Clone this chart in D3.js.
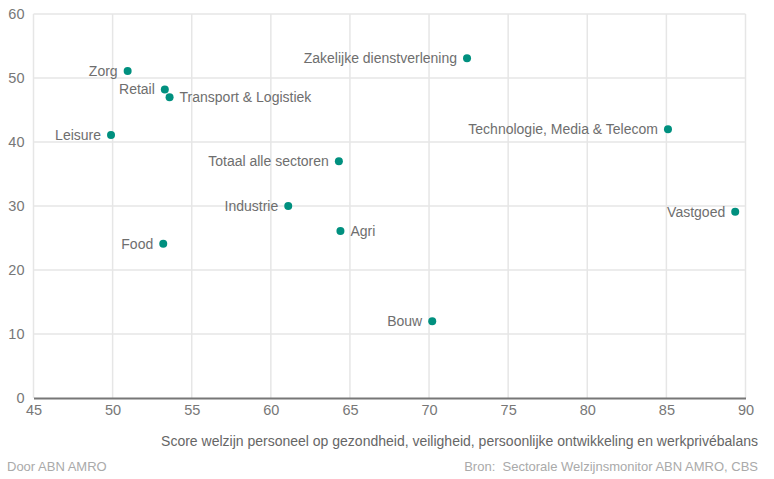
<!DOCTYPE html>
<html>
<head>
<meta charset="utf-8">
<script src="https://cdn.jsdelivr.net/npm/d3@7"></script>
<style>
body { margin:0; background:#fff; }
text { font-family: "Liberation Sans", Arial, sans-serif; }
</style>
</head>
<body>
<svg id="graph"></svg>
<script>
// sectors and scores
var sectors = ["Zorg","Retail","Transport & Logistiek","Leisure","Zakelijke dienstverlening",
               "Totaal alle sectoren","Technologie, Media & Telecom","Vastgoed","Industrie","Agri","Food","Bouw"]
var welzijn = [50.95, 53.3, 53.6, 49.9, 72.4, 64.3, 85.1, 89.35, 61.1, 64.4, 53.2, 70.2]
var yvalues = [51.1, 48.2, 47.0, 41.1, 53.1, 37.0, 42.0, 29.1, 30.0, 26.1, 24.1, 12.0]
var labelSide = ["l","l","r","l","l","l","l","l","l","r","l","l"]
var xTicks = [45,50,55,60,65,70,75,80,85,90]
var yTicks = [0,10,20,30,40,50,60]

var screen = {width:774, height:479}
var margin = {left:33.5, right:28.5, top:14, bottom:81}

var svg = d3.select("#graph")
	.attr("width", screen.width)
	.attr("height", screen.height)

var xScale = d3.scaleLinear()
	.domain([45,90])
	.range([margin.left, screen.width-margin.right])
var yScale = d3.scaleLinear()
	.domain([0,60])
	.range([screen.height-margin.bottom, margin.top])

// grid
svg.append("g").selectAll("line").data(xTicks).enter().append("line")
	.attr("x1", function(d){ return xScale(d) }).attr("x2", function(d){ return xScale(d) })
	.attr("y1", yScale(60)).attr("y2", yScale(0))
	.attr("stroke", "#e6e6e6").attr("stroke-width", 1.5)
svg.append("g").selectAll("line").data(yTicks.filter(function(d){ return d>0 })).enter().append("line")
	.attr("x1", xScale(45)).attr("x2", xScale(90))
	.attr("y1", function(d){ return yScale(d) }).attr("y2", function(d){ return yScale(d) })
	.attr("stroke", "#e6e6e6").attr("stroke-width", 1.5)

// x axis
var xAxis = svg.append("g")
	.attr("transform", "translate(0," + yScale(0) + ")")
	.call(d3.axisBottom(xScale).tickValues(xTicks).tickSize(0).tickPadding(7))
xAxis.select(".domain").attr("stroke", "#777").attr("stroke-width", 1.8)
xAxis.selectAll("text").attr("fill", "#777").attr("font-size", 14.5)
	.style("font-family", "Liberation Sans, Arial, sans-serif")

// y axis
var yAxis = svg.append("g")
	.attr("transform", "translate(" + (xScale(45)-9) + ",0)")
	.call(d3.axisLeft(yScale).tickValues(yTicks).tickSize(0).tickPadding(0))
yAxis.select(".domain").remove()
yAxis.selectAll("text").attr("fill", "#777").attr("font-size", 14.5)
	.style("font-family", "Liberation Sans, Arial, sans-serif")

// points
var pts = d3.range(sectors.length)
svg.append("g").selectAll("circle").data(pts).enter().append("circle")
	.attr("cx", function(i){ return xScale(welzijn[i]) })
	.attr("cy", function(i){ return yScale(yvalues[i]) })
	.attr("r", 4)
	.attr("fill", "#00907f")

svg.append("g").selectAll("text").data(pts).enter().append("text")
	.attr("x", function(i){ return xScale(welzijn[i]) + (labelSide[i]=="r" ? 10 : -10) })
	.attr("y", function(i){ return yScale(yvalues[i]) })
	.attr("dy", "0.35em")
	.attr("text-anchor", function(i){ return labelSide[i]=="r" ? "start" : "end" })
	.attr("fill", "#6e6e6e")
	.attr("font-size", 14)
	.text(function(i){ return sectors[i] })

// titles
svg.append("text").attr("x", 758).attr("y", 446).attr("text-anchor", "end")
	.attr("fill", "#666").attr("font-size", 14)
	.text("Score welzijn personeel op gezondheid, veiligheid, persoonlijke ontwikkeling en werkprivébalans")
svg.append("text").attr("x", 7).attr("y", 471)
	.attr("fill", "#aaa").attr("font-size", 13)
	.text("Door ABN AMRO")
svg.append("text").attr("x", 758).attr("y", 471).attr("text-anchor", "end")
	.attr("fill", "#aaa").attr("font-size", 13)
	.style("white-space", "pre")
	.text("Bron:  Sectorale Welzijnsmonitor ABN AMRO, CBS")
</script>
</body>
</html>
